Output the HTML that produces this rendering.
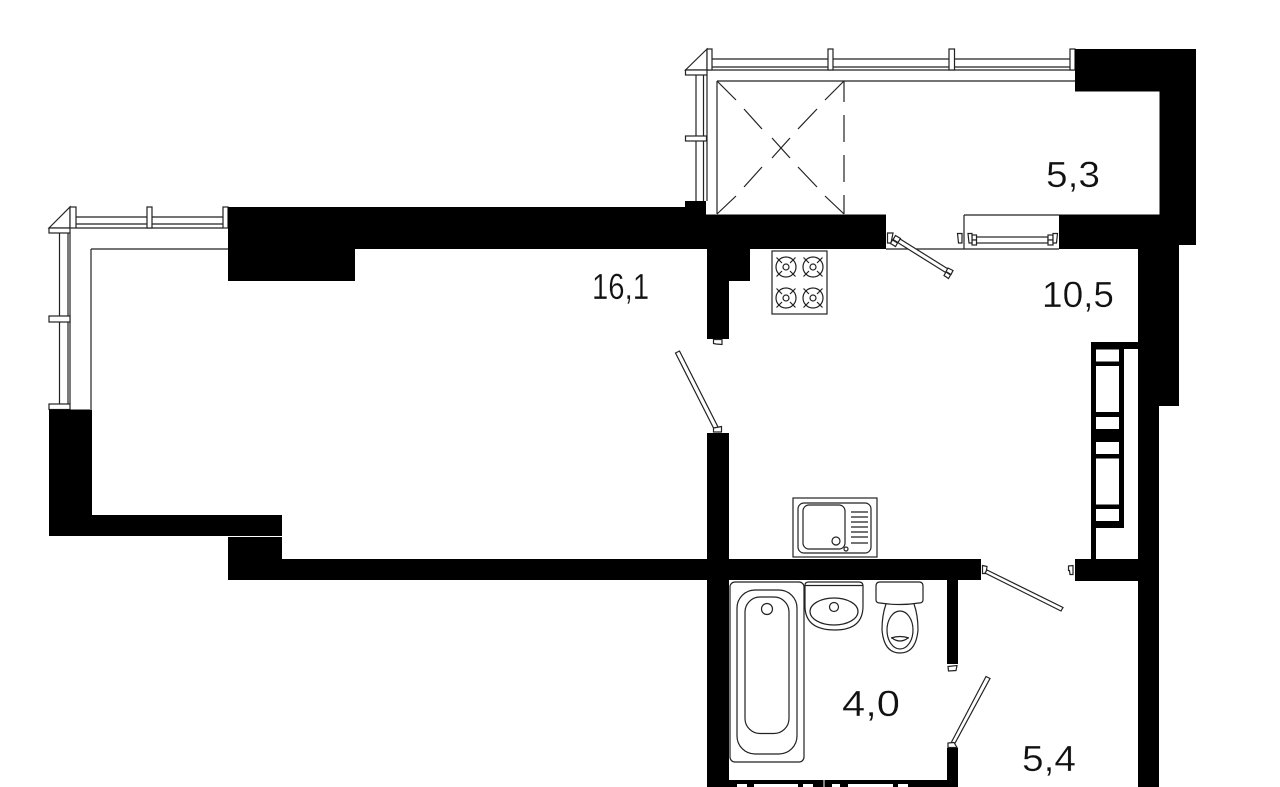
<!DOCTYPE html>
<html><head><meta charset="utf-8"><style>
html,body{margin:0;padding:0;background:#fff}
svg{display:block}
text{font-family:"Liberation Sans",sans-serif;font-size:36px;fill:#111;stroke:#fff;stroke-width:.3px}
.b{fill:#000;stroke:none}
.l{fill:#fff;stroke:#222;stroke-width:1.2}
.n{fill:none;stroke:#222;stroke-width:1.2}
</style></head><body>
<svg width="1280" height="787" viewBox="0 0 1280 787" xmlns="http://www.w3.org/2000/svg">
<rect width="1280" height="787" fill="#fff"/>

<!-- top balcony -->
<path class="n" d="M707 70H1075M712 59H1075M712 67H1075M717 81H1075M717 81V214"/>
<path class="l" d="M685.500 70L707 49V70Z"/>
<rect class="l" x="685.500" y="70" width="21.500" height="5"/>
<rect class="l" x="707" y="49" width="5" height="21"/>
<rect class="l" x="828" y="49" width="5" height="21"/>
<rect class="l" x="949" y="49" width="5.500" height="21"/>
<rect class="l" x="1070" y="49" width="5" height="21"/>
<path class="n" d="M696 75V201M703.500 75V201M707 75V201"/>
<rect class="l" x="685.500" y="136" width="21" height="5"/>
<path class="n" d="M844 81V102M844 115V142M844 155V182M844 195V214"/>
<path class="n" d="M717 81L736 100M744 109L762 129M772 138L790 158M798 167L817 187M825 196L844 214"/>
<path class="n" d="M844 81L825 100M817 109L798 129M790 138L772 158M762 167L744 187M736 196L717 214"/>

<!-- left balcony -->
<path class="n" d="M76 217H223M76 224H223M76 228H223M91 249H228M91 249V409"/>
<path class="l" d="M49 228L70 207V228Z"/>
<rect class="l" x="49" y="228" width="21" height="5"/>
<rect class="l" x="70" y="207" width="6" height="21"/>
<rect class="l" x="147" y="207" width="5" height="21"/>
<rect class="l" x="223" y="207" width="5" height="21"/>
<path class="n" d="M59.500 233V404M68 233V404M70 233V404"/>
<rect class="l" x="49" y="316" width="21" height="6"/>
<rect class="l" x="49" y="404" width="21" height="5.500"/>

<!-- walls -->
<path class="b" d="M228 207H685V201H706V214.500H886V249H750V281H729V339H707V249H355V281H228Z"/>
<path class="b" d="M1075 49H1196V245H1179V406H1159V787H1138V249H1059V214.500H1159.500V91.500H1075Z"/>
<path class="b" d="M49 409.500H92V515H282V559H981V580H958V664H947V580H729V787H707V580H228V536H49Z"/>
<rect x="228" y="536" width="54" height="1" fill="#fff"/>
<rect class="b" x="707" y="433" width="22" height="130"/>
<rect class="b" x="947" y="748" width="11" height="39"/>
<rect class="b" x="1075" y="559" width="65" height="22"/>

<!-- wardrobe -->
<path class="b" d="M1091 342H1140V349H1124V528H1096V559H1091Z"/>
<rect x="1096" y="349.500" width="23" height="12" fill="#fff"/>
<rect x="1096" y="366" width="23" height="46" fill="#fff"/>
<rect x="1096" y="417" width="23" height="12" fill="#fff"/>
<rect x="1096" y="442" width="23" height="12" fill="#fff"/>
<rect x="1096" y="458.500" width="23" height="46" fill="#fff"/>
<rect x="1096" y="509" width="23" height="12" fill="#fff"/>

<!-- bottom strip -->
<rect class="b" x="729" y="780" width="218" height="7"/>
<path fill="#fff" d="M737 784h10v3h-10zM754 784h44v3h-44zM803 784h10v3h-10zM832 784h8v3h-8zM848 784h45v3h-45zM898 784h10v3h-10z"/>
<path stroke="#fff" stroke-width="1" d="M824 780V787"/>

<!-- balcony door/window -->
<path class="n" d="M886 249H1059M964 215V249M964 215H1059"/>
<rect class="l" x="976" y="237" width="72" height="6"/>
<rect class="l" x="972" y="235" width="4.500" height="5"/>
<rect class="l" x="972" y="240" width="4.500" height="5"/>
<rect class="l" x="1048" y="235" width="5" height="5"/>
<rect class="l" x="1048" y="240" width="5" height="5"/>
<path class="l" d="M968 233.500h4v9.500h-3zM1053 233.500h4.500l-1 9.500h-3.500zM957.500 233.500H962V243h-3.500zM887.500 233H893l-2 10h-3.500z"/>
<path class="l" d="M898.500 238L950.500 270.500L948 274L896 241.500Z"/>
<path class="l" d="M895.500 235.500l5 3l-2.500 4l-5-3zM892.500 240l5 3l-2 3.500l-5-3zM948 268l5 2.500l-2 4l-5-3zM946 272l4.500 3l-2 3.500l-4.500-3z"/>

<!-- stove -->
<rect class="n" x="772" y="251" width="55" height="63"/>
<g class="n">
<circle cx="786" cy="267" r="10"/><circle cx="786" cy="267" r="3"/><path d="M776.500 257.500L782 263M795.500 257.500L790 263M776.500 276.500L782 271M795.500 276.500L790 271"/>
<circle cx="813" cy="267" r="10"/><circle cx="813" cy="267" r="3"/><path d="M803.500 257.500L809 263M822.500 257.500L817 263M803.500 276.500L809 271M822.500 276.500L817 271"/>
<circle cx="786" cy="298" r="10"/><circle cx="786" cy="298" r="3"/><path d="M776.500 288.500L782 294M795.500 288.500L790 294M776.500 307.500L782 302M795.500 307.500L790 302"/>
<circle cx="813" cy="298" r="10"/><circle cx="813" cy="298" r="3"/><path d="M803.500 288.500L809 294M822.500 288.500L817 294M803.500 307.500L809 302M822.500 307.500L817 302"/>
</g>

<!-- door near kitchen stub -->
<path class="l" d="M713.500 339.500h8.500v5l-6 -.5l-2.500 -.5z"/>
<path class="l" d="M675.500 353L679.500 351L718 427L714 429Z"/>
<path class="l" d="M713.500 428l8-1.500v5.500h-8z"/>

<!-- kitchen sink -->
<rect class="n" x="793" y="498" width="84" height="59"/>
<rect class="n" x="798" y="503" width="73" height="50" rx="6"/>
<rect class="n" x="803" y="505" width="42" height="44" rx="6"/>
<circle class="n" cx="836" cy="541" r="4"/>
<circle class="n" cx="846" cy="549" r="2"/>
<path class="n" d="M851 512H868M851 517H868M851 522H868M851 527H868M851 532H868M851 537H868M851 543H868"/>

<!-- bath -->
<rect class="n" x="730" y="582" width="74" height="180" rx="5"/>
<rect class="n" x="737" y="590" width="60" height="164" rx="18"/>
<rect class="n" x="745" y="597" width="44" height="136.500" rx="15"/>
<circle class="n" cx="767" cy="609" r="5.500"/>

<!-- basin -->
<path class="n" d="M805 585V606Q805 630 835 630Q863 630 863 606V586Q863 582 859 582H809Q805 582 805 585ZM805 585.500H863"/>
<ellipse class="n" cx="834" cy="611.500" rx="24" ry="13.500"/>
<circle class="n" cx="834" cy="607" r="4.500"/>

<!-- toilet -->
<path class="n" d="M880 582H919Q923 582 923 586V600Q923 603 919 603Q900 606 880 603Q876 603 876 600V586Q876 582 880 582Z"/>
<path class="n" d="M886 604Q882 615 882 630Q884 653 900 653Q916 653 918 630Q918 615 914 604"/>
<ellipse class="n" cx="900" cy="630" rx="13" ry="19"/>
<path class="n" d="M891 638Q900 635 909 638M892 638Q900 644 908 638"/>

<!-- right-hand doors -->
<path class="l" d="M948 666.500l9-1l-1 5l-7.500 .5z"/>
<path class="l" d="M986 676.500L990 678.500L954 745L951 743Z"/>
<path class="l" d="M948 743l6-.5l3 5H948z"/>
<path class="l" d="M982.500 565.500l4.500 1l-1 7h-3.500z"/>
<path class="l" d="M987 570L1063 607.500L1061 611L985 573Z"/>
<path class="l" d="M1068.500 566l4.500-.5v9h-3l-.5-4h-1z"/>

<!-- labels -->
<text x="1046" y="187" textLength="54" lengthAdjust="spacingAndGlyphs">5,3</text>
<text x="1042" y="307" textLength="72" lengthAdjust="spacingAndGlyphs">10,5</text>
<text x="592" y="299" textLength="57" lengthAdjust="spacingAndGlyphs">16,1</text>
<text x="842" y="716" textLength="58" lengthAdjust="spacingAndGlyphs">4,0</text>
<text x="1022" y="771" textLength="54" lengthAdjust="spacingAndGlyphs">5,4</text>
</svg>
</body></html>
